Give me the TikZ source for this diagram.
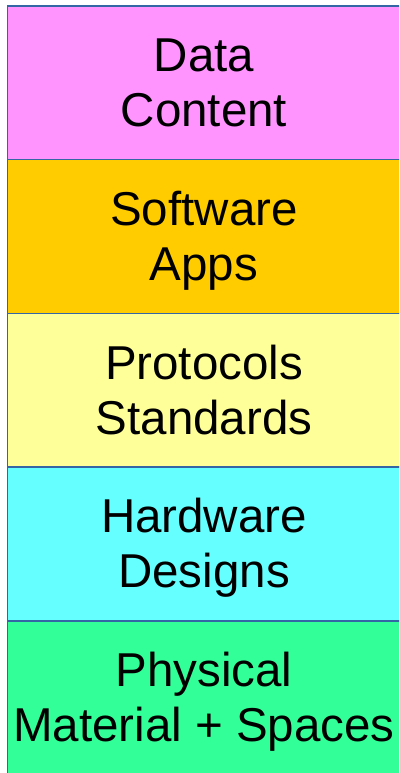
\documentclass[tikz,border=0pt]{standalone}
\usepackage{fontspec}
\setmainfont{Liberation Sans}
\definecolor{edgec}{HTML}{3465A4}
\definecolor{cpink}{HTML}{FF94FF}
\definecolor{corange}{HTML}{FFCC00}
\definecolor{cyellow}{HTML}{FFFF99}
\definecolor{ccyan}{HTML}{66FFFF}
\definecolor{cgreen}{HTML}{33FF99}
\begin{document}
\begin{tikzpicture}[x=1pt,y=-1pt,
  layer/.style={draw=edgec, line width=1.4pt, anchor=north west, minimum width=394pt, minimum height=153.7pt, inner sep=0pt, outer sep=0pt},
  lbl/.style={anchor=base, align=center, font=\fontsize{47.5}{55}\selectfont, inner sep=0pt}]
\useasboundingbox (0,0) rectangle (399,773);
\clip (0,0) rectangle (399,773);
\node[layer, fill=cpink]   (p1) at (7.5,6) {};
\node[layer, fill=corange] (p2) at (7.5,159.7) {};
\node[layer, fill=cyellow] (p3) at (7.5,313.4) {};
\node[layer, fill=ccyan]   (p4) at (7.5,467.1) {};
\node[layer, fill=cgreen, minimum height=160pt]  (p5) at (7.5,620.8) {};
\node[lbl] (t1) at (204,126.7) {Data\\Content};
\node[lbl] (t2) at (204,280.4) {Software\\Apps};
\node[lbl] (t3) at (204,434.1) {Protocols\\Standards};
\node[lbl] (t4) at (204,587.8) {Hardware\\Designs};
\node[lbl] (t5) at (204,741.5) {Physical\\Material + Spaces};
\end{tikzpicture}
\end{document}
